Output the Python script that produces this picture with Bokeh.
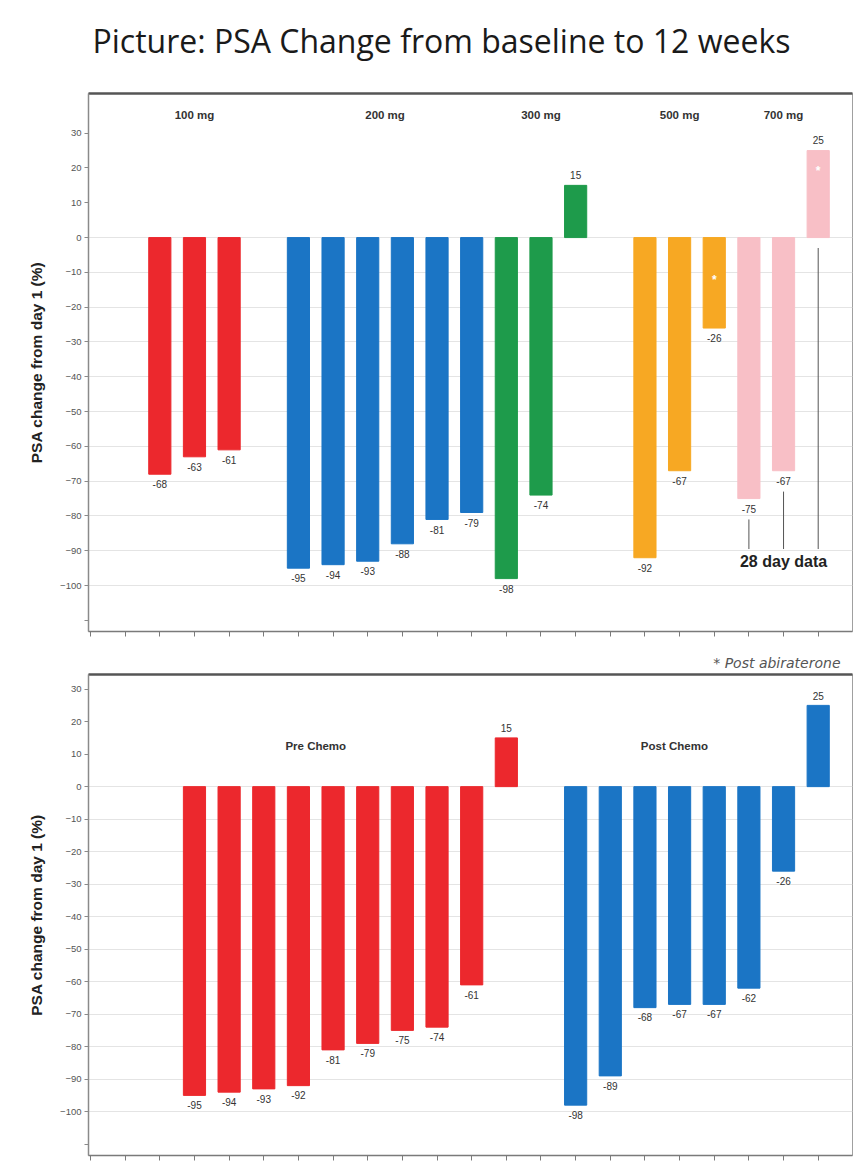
from bokeh.plotting import figure
from bokeh.models import FixedTicker, LinearAxis, Range1d, Label, ColumnDataSource
from bokeh.layouts import column
from bokeh.core.properties import value
from bokeh.embed import file_html
from bokeh.resources import INLINE

TITLE = "Picture: PSA Change from baseline to 12 weeks"
Y_LABEL = "PSA change from day 1 (%)"
FOOTNOTE = "* Post abiraterone"
DAY28_TEXT = "28 day data"

# ---- top panel: dose groups ----
dose_names = ["100 mg", "200 mg", "300 mg", "500 mg", "700 mg"]
dose_100 = [-68, -63, -61]
dose_200 = [-95, -94, -93, -88, -81, -79]
dose_300 = [-98, -74, 15]
dose_500 = [-92, -67, -26]
dose_700 = [-75, -67, 25]
dose_colors = ["#EC282D", "#1B75C5", "#1E9B4B", "#F7A823", "#F8BFC6"]
dose_gap_before = [2, 1, 0, 1, 0]
post_abiraterone = [(3, 2), (4, 2)]
day28_group = 4

# ---- bottom panel: chemo status ----
chemo_names = ["Pre Chemo", "Post Chemo"]
pre_chemo = [-95, -94, -93, -92, -81, -79, -75, -74, -61, 15]
post_chemo = [-98, -89, -68, -67, -67, -62, -26, 25]
chemo_colors = ["#EC282D", "#1B75C5"]
chemo_gap_before = [3, 1]
chemo_label_shift = [-1.0, -0.65]

y_ticks = list(range(30, -111, -10))
grid_ticks = list(range(0, -101, -10))
x_slots = list(range(0, 23))

FONT = "Liberation Sans"
BAR_W = 0.64
W = 854
LEFT = 88
RIGHT = 2


def slot_positions(groups, gaps):
    out = []
    pos = 0
    for g, gap in zip(groups, gaps):
        pos += gap
        out.append([pos + i for i in range(len(g))])
        pos += len(g)
    return out


def text_strip(height):
    """A borderless strip; its frame spans LEFT..W-RIGHT, data units = page pixels."""
    s = figure(width=W, height=height, output_backend="svg", toolbar_location=None,
               x_range=Range1d(LEFT, W - RIGHT), y_range=Range1d(height, 0),
               x_axis_type=None, y_axis_type=None,
               min_border_left=LEFT, min_border_right=RIGHT, min_border_top=0,
               min_border_bottom=0, outline_line_color=None,
               background_fill_color="white", border_fill_color="white")
    s.xgrid.visible = False
    s.ygrid.visible = False
    return s


def base_fig(height, bt, bb, y0, y1, x1):
    p = figure(width=W, height=height, output_backend="svg", toolbar_location=None,
               title=None,
               x_range=Range1d(-0.058, x1), y_range=Range1d(y0, y1),
               min_border_left=LEFT, min_border_right=RIGHT, min_border_top=bt,
               min_border_bottom=bb, background_fill_color="white",
               border_fill_color="white", outline_line_color="#a0a0a0",
               outline_line_width=1)
    p.xgrid.visible = False
    p.ygrid.ticker = FixedTicker(ticks=grid_ticks)
    p.ygrid.grid_line_color = "#e4e4e4"
    p.ygrid.grid_line_width = 1

    ya = p.yaxis[0]
    ya.ticker = FixedTicker(ticks=y_ticks)
    ya.major_label_overrides = {-110: ""}
    ya.major_label_text_font = FONT
    ya.major_label_text_font_size = "9.5px"
    ya.major_label_text_color = "#555555"
    ya.major_tick_in = 0
    ya.major_tick_out = 4
    ya.minor_tick_line_color = None
    ya.axis_line_color = "#8a8a8a"
    ya.axis_line_width = 1.5
    ya.major_tick_line_color = "#8a8a8a"
    ya.major_label_standoff = 3
    ya.axis_label = Y_LABEL
    ya.axis_label_text_font = FONT
    ya.axis_label_text_font_style = "bold"
    ya.axis_label_text_font_size = "15.5px"
    ya.axis_label_text_color = "#222222"
    ya.axis_label_standoff = 12

    xa = p.xaxis[0]
    xa.ticker = FixedTicker(ticks=x_slots)
    xa.major_label_overrides = {i: "" for i in x_slots}
    xa.major_label_text_font_size = "9px"
    xa.major_label_standoff = 0
    xa.major_tick_in = 0
    xa.major_tick_out = 5
    xa.minor_tick_line_color = None
    xa.axis_line_color = "#7a7a7a"
    xa.axis_line_width = 1.5
    xa.major_tick_line_color = "#7a7a7a"

    top = LinearAxis(ticker=FixedTicker(ticks=[]), axis_line_color="#555555",
                     axis_line_width=2.5, major_tick_out=0, major_tick_in=0,
                     minor_tick_out=0, minor_tick_in=0, major_label_standoff=0,
                     axis_label_standoff=0)
    p.add_layout(top, "above")
    return p


def draw_bars(p, groups, positions, colors):
    xs, tops, cols = [], [], []
    for g, pos, c in zip(groups, positions, colors):
        xs += pos
        tops += g
        cols += [c] * len(g)
    p.vbar(x=xs, top=tops, bottom=0, width=BAR_W, fill_color=cols, line_color=cols)
    neg = ColumnDataSource(dict(x=[x for x, t in zip(xs, tops) if t < 0],
                                y=[t - 1.8 for t in tops if t < 0],
                                t=[str(t) for t in tops if t < 0]))
    pos_ = ColumnDataSource(dict(x=[x for x, t in zip(xs, tops) if t > 0],
                                 y=[t + 1.8 for t in tops if t > 0],
                                 t=[str(t) for t in tops if t > 0]))
    p.text(x="x", y="y", text="t", source=neg, text_align="center",
           text_baseline="top", text_font=value(FONT), text_font_size="10px",
           text_color="#333333")
    p.text(x="x", y="y", text="t", source=pos_, text_align="center",
           text_baseline="bottom", text_font=value(FONT), text_font_size="10px",
           text_color="#333333")
    return xs, tops


# ================= title strip =================
t_strip = text_strip(80)
t_strip.add_layout(Label(x=92, y=40, text=TITLE, text_align="left",
                         text_baseline="middle", text_font="Open Sans",
                         text_font_size="32px", text_color="#1a1a1a"))

# ================= top figure =================
top_groups = [dose_100, dose_200, dose_300, dose_500, dose_700]
top_pos = slot_positions(top_groups, dose_gap_before)
p1 = base_fig(570, 13, 19, -113.2, 41.4, 21.99)
draw_bars(p1, top_groups, top_pos, dose_colors)

for name, pos in zip(dose_names, top_pos):
    p1.add_layout(Label(x=sum(pos) / len(pos), y=35.1, text=name, text_align="center",
                        text_baseline="middle", text_font=FONT, text_font_size="11.5px",
                        text_font_style="bold", text_color="#333333"))

# asterisks inside post-abiraterone bars
ast_x = [top_pos[g][i] for g, i in post_abiraterone]
ast_y = [top_groups[g][i] * (0.47 if top_groups[g][i] < 0 else 0.76) for g, i in post_abiraterone]
p1.text(x=ast_x, y=ast_y, text=["*"] * len(ast_x), text_align="center",
        text_baseline="middle", text_font=value(FONT), text_font_size="12px",
        text_color="white", text_font_style="bold")

# 28 day data leader lines
d28_x = top_pos[day28_group]
d28_vals = top_groups[day28_group]
line_end = -89.5
p1.segment(x0=d28_x, x1=d28_x,
           y0=[v - 6 if v < 0 else -3 for v in d28_vals],
           y1=[line_end] * len(d28_x), line_color="#555555", line_width=1)
p1.add_layout(Label(x=sum(d28_x) / len(d28_x), y=line_end - 1.0, text=DAY28_TEXT,
                    text_align="center", text_baseline="top", text_font=FONT,
                    text_font_size="16px", text_font_style="bold",
                    text_color="#222222"))

# ================= footnote strip =================
f_strip = text_strip(22)
f_strip.add_layout(Label(x=840, y=12, text=FOOTNOTE, text_align="right",
                         text_baseline="middle", text_font="DejaVu Sans",
                         text_font_size="14px", text_font_style="italic",
                         text_color="#555555"))

# ================= bottom figure =================
bot_groups = [pre_chemo, post_chemo]
bot_pos = slot_positions(bot_groups, chemo_gap_before)
p2 = base_fig(491, 2, 8, -113.5, 34.5, 21.99)
draw_bars(p2, bot_groups, bot_pos, chemo_colors)
for name, pos, sh in zip(chemo_names, bot_pos, chemo_label_shift):
    p2.add_layout(Label(x=sum(pos) / len(pos) + sh, y=12.5, text=name,
                        text_align="center", text_baseline="middle", text_font=FONT,
                        text_font_size="11.5px", text_font_style="bold",
                        text_color="#333333"))

layout = column(t_strip, p1, f_strip, p2, spacing=0)
open("out.html", "w").write(file_html(layout, INLINE))
